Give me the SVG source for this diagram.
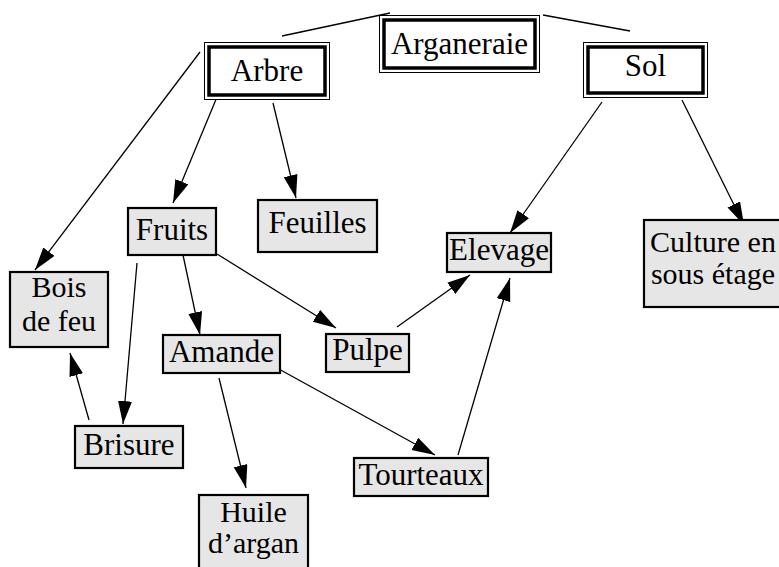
<svg xmlns="http://www.w3.org/2000/svg" width="779" height="567" viewBox="0 0 779 567">
<style>
.box{fill:#e6e6e6;stroke:#000;stroke-width:2.2}
.outer{fill:#fff;stroke:#000;stroke-width:1}
.inner{fill:none;stroke:#000;stroke-width:3.5}
text{font-family:"Liberation Serif","Times New Roman",serif;font-size:31px;fill:#000;text-anchor:middle}
text.two{font-size:30px}
.c line{stroke:#000;stroke-width:1.3}
.c .a{marker-end:url(#ah)}
</style>
<defs>
<marker id="ah" markerUnits="userSpaceOnUse" markerWidth="25" markerHeight="16" refX="23" refY="7" orient="auto">
<path d="M0,0 L23,7 L0,14 z" fill="#000"/>
</marker>
</defs>
<rect width="779" height="567" fill="#fff"/>
<g class="c" id="connectors">
<line x1="282" y1="36" x2="390" y2="13"/>
<line x1="543" y1="15" x2="630" y2="31"/>
<line class="a" x1="200" y1="52" x2="35" y2="270"/>
<line class="a" x1="217" y1="97" x2="173" y2="203"/>
<line class="a" x1="273" y1="103" x2="296" y2="198"/>
<line class="a" x1="602" y1="102" x2="510" y2="233"/>
<line class="a" x1="682" y1="100" x2="744" y2="225"/>
<line class="a" x1="137" y1="263" x2="123" y2="424"/>
<line class="a" x1="89" y1="420" x2="70" y2="353"/>
<line class="a" x1="183" y1="255" x2="200" y2="335"/>
<line class="a" x1="217" y1="254" x2="336" y2="328"/>
<line class="a" x1="397" y1="327" x2="470" y2="275"/>
<line class="a" x1="277" y1="368" x2="435" y2="455"/>
<line class="a" x1="458" y1="455" x2="510" y2="278"/>
<line class="a" x1="219" y1="378" x2="246" y2="488"/>
</g>
<g id="n-arganeraie">
<rect class="outer" x="379.5" y="15.5" width="160" height="57"/>
<rect class="inner" x="384" y="20" width="151" height="48"/>
<text x="459.5" y="54">Arganeraie</text>
</g>
<g id="n-arbre">
<rect class="outer" x="204.5" y="42.5" width="125" height="57"/>
<rect class="inner" x="209" y="47" width="116" height="48"/>
<text x="267" y="81">Arbre</text>
</g>
<g id="n-sol">
<rect class="outer" x="583.5" y="42.5" width="124" height="55"/>
<rect class="inner" x="588" y="47" width="115" height="46"/>
<text x="645.5" y="76">Sol</text>
</g>
<g id="n-fruits">
<rect class="box" x="128" y="208" width="88" height="47"/>
<text x="172" y="240">Fruits</text>
</g>
<g id="n-feuilles">
<rect class="box" x="258" y="200" width="119" height="52"/>
<text x="317.5" y="233">Feuilles</text>
</g>
<g id="n-bois">
<rect class="box" x="10" y="272" width="98" height="75"/>
<text class="two" x="59" y="297">Bois</text>
<text class="two" x="59" y="331">de feu</text>
</g>
<g id="n-elevage">
<rect class="box" x="447" y="233" width="104" height="39"/>
<text x="499" y="260">Elevage</text>
</g>
<g id="n-culture">
<rect class="box" x="644" y="220" width="145" height="87"/>
<text class="two" x="713" y="252">Culture en</text>
<text class="two" x="713" y="284">sous étage</text>
</g>
<g id="n-amande">
<rect class="box" x="163" y="335" width="117" height="38"/>
<text x="221.5" y="362">Amande</text>
</g>
<g id="n-pulpe">
<rect class="box" x="326" y="334" width="83" height="38"/>
<text x="367.5" y="360">Pulpe</text>
</g>
<g id="n-brisure">
<rect class="box" x="75" y="426" width="108" height="42"/>
<text x="129" y="455">Brisure</text>
</g>
<g id="n-tourteaux">
<rect class="box" x="354" y="458" width="134" height="38"/>
<text x="421" y="485">Tourteaux</text>
</g>
<g id="n-huile">
<rect class="box" x="199" y="495" width="109" height="80"/>
<text class="two" x="253.5" y="522">Huile</text>
<text class="two" x="253.5" y="553">d’argan</text>
</g>
</svg>
